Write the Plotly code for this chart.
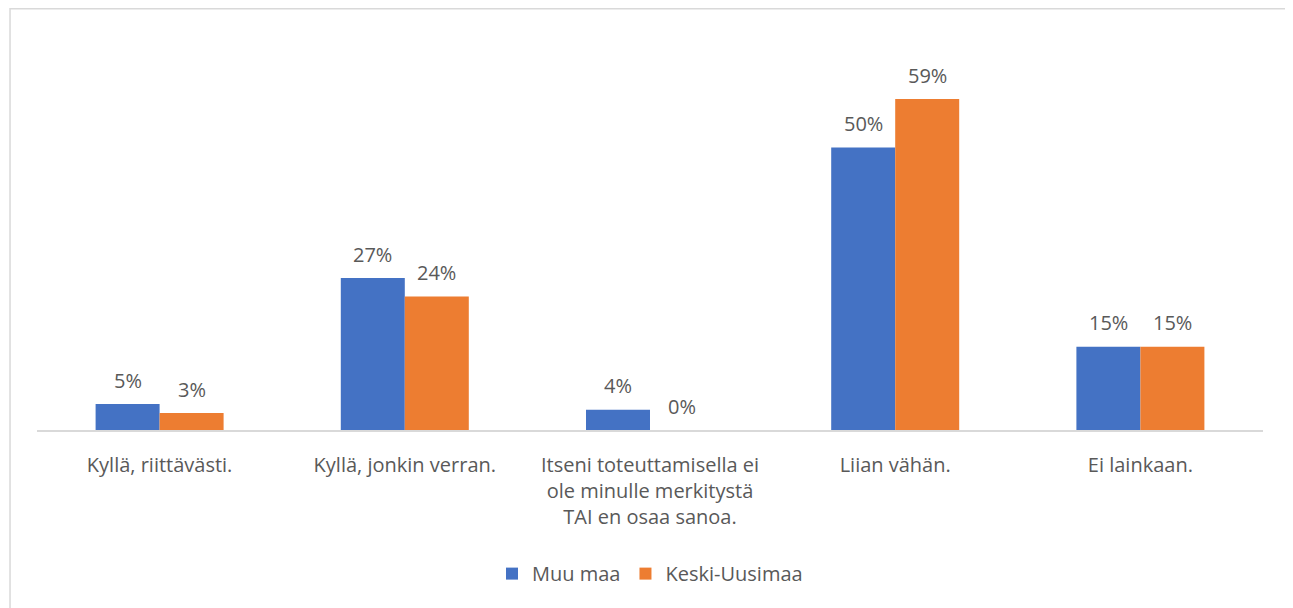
import plotly.graph_objects as go

categories = [
    "Kyllä, riittävästi.",
    "Kyllä, jonkin verran.",
    "Itseni toteuttamisella ei<br>ole minulle merkitystä<br>TAI en osaa sanoa.",
    "Liian vähän.",
    "Ei lainkaan.",
]
series_names = ["Muu maa", "Keski-Uusimaa"]
muu_maa = [0.046, 0.270, 0.036, 0.502, 0.148]
keski_uusimaa = [0.030, 0.237, 0.0, 0.588, 0.148]
colors = ["#4472C4", "#ED7D31"]

FONT = "Open Sans"
TXT = "#595959"
FS = 20

fig = go.Figure()
for name, vals, col in zip(series_names, [muu_maa, keski_uusimaa], colors):
    fig.add_trace(go.Bar(x=categories, y=vals, name=name, marker=dict(color=col, line=dict(width=0))))

annotations = []
for vals, shift in [(muu_maa, -32), (keski_uusimaa, 32)]:
    for c, v in zip(categories, vals):
        annotations.append(dict(x=c, y=v, xref="x", yref="y", text=f"{round(v*100)}%",
                                showarrow=False, xshift=shift, yshift=24, yanchor="middle",
                                font=dict(family=FONT, size=FS, color=TXT)))

fig.update_layout(
    width=1285, height=600,
    margin=dict(l=29, r=30, t=28, b=178),
    paper_bgcolor="white", plot_bgcolor="white",
    barmode="group", bargap=0.478, bargroupgap=0,
    font=dict(family=FONT, size=FS, color=TXT),
    showlegend=True,
    legend=dict(orientation="h", x=0.5, xanchor="center", y=-0.315, yanchor="top",
                font=dict(family=FONT, size=FS, color=TXT), itemwidth=30, traceorder="normal"),
    annotations=annotations,
    shapes=[dict(type="rect", xref="paper", yref="paper", x0=-0.022, x1=1.0228, y0=-0.46, y1=1.069,
                 line=dict(color="#D9D9D9", width=1.5), fillcolor="rgba(0,0,0,0)", layer="below")],
)
fig.update_xaxes(showline=True, linecolor="#D9D9D9", linewidth=1.5, ticks="outside", ticklen=16,
                 tickcolor="rgba(0,0,0,0)", tickfont=dict(family=FONT, size=FS, color=TXT), showgrid=False)
fig.update_yaxes(range=[0, 0.70], visible=False, showgrid=False, zeroline=False)

fig.write_html("out.html")
